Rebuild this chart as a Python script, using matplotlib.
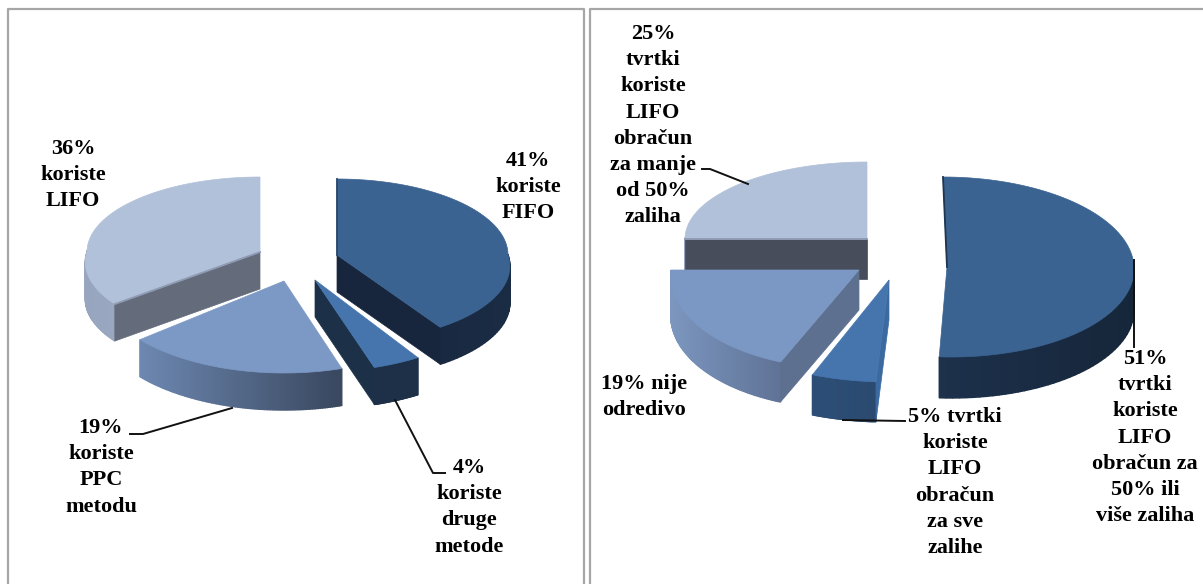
import numpy as np
import matplotlib
matplotlib.use("Agg")
import matplotlib.pyplot as plt
from matplotlib.colors import to_rgb

# left pie
leftValues = [41, 4, 19, 36]
leftLabels = ["41%\nkoriste\nFIFO", "4%\nkoriste\ndruge\nmetode",
              "19%\nkoriste\nPPC\nmetodu", "36%\nkoriste\nLIFO"]

# right pie
rightValues = [51, 5, 19, 25]
rightLabels = ["51%\ntvrtki\nkoriste\nLIFO\nobračun za\n50% ili\nviše zaliha",
               "5% tvrtki\nkoriste\nLIFO\nobračun\nza sve\nzalihe",
               "19% nije\nodredivo",
               "25%\ntvrtki\nkoriste\nLIFO\nobračun\nza manje\nod 50%\nzaliha"]

fontName = "Liberation Serif"
W, H = 1203, 584

fig = plt.figure(figsize=(W / 100, H / 100), dpi=100)
ax = fig.add_axes([0, 0, 1, 1])
ax.set_xlim(0, W)
ax.set_ylim(H, 0)
ax.axis("off")


def angles(values):
    edges = np.cumsum([0] + list(values)) / sum(values) * 2 * np.pi
    return edges[:-1], edges[1:]


def mix(c1, c2, f):
    a = np.array(to_rgb(c1))
    b = np.array(to_rgb(c2))
    return a + (b - a) * f


# everything uses zorder 3, so slices stack in the order they are drawn
def drawSlice(t1, t2, apex, rx, ry, depth, top, sideL, sideR, cut=None, cutEnd=2, skew=0, persp=0, edge=None):
    t = np.linspace(t1, t2, 90)
    grow = 1 + persp * np.maximum(-np.cos(t), 0)  # front of the pie looks larger
    x = apex[0] + rx * grow * np.sin(t) + skew * np.cos(t)
    y = apex[1] - ry * grow * np.cos(t)

    # outer wall, shaded from left to right in small strips, back half is hidden
    left, right = x.min(), x.max()
    for k in range(len(t) - 1):
        if np.cos(t[k]) > 0 and np.cos(t[k + 1]) > 0:
            continue
        f = (x[k] - left) / max(right - left, 1)
        ax.fill([x[k], x[k + 1], x[k + 1], x[k]],
                [y[k], y[k + 1], y[k + 1] + depth, y[k] + depth],
                color=mix(sideL, sideR, f), lw=1.0, zorder=3)

    # cut face going down from the straight edge
    if cut is not None:
        i = -1 if cutEnd == 2 else 0
        ax.fill([apex[0], x[i], x[i], apex[0]],
                [apex[1], y[i], y[i] + depth, apex[1] + depth],
                color=cut, lw=0.5, zorder=3)

    ax.fill(np.r_[apex[0], x], np.r_[apex[1], y], color=top, lw=0.5, zorder=3)
    if edge is not None:
        ax.plot([apex[0], x[0]], [apex[1], y[0]], color=edge, lw=1.3, zorder=3)


# panel borders
for xs, ys in [([8, 8, 584, 584], [584, 9, 9, 584]), ([590, 590, 1203], [584, 9, 9])]:
    ax.plot(xs, ys, color="#a6a6a6", lw=1.6, zorder=1)

s, e = angles(leftValues)
drawSlice(s[3], e[3], (260, 252), 173, 75, 37, "#b1c1da", "#98a5be", "#a3b0c9", cut="#646b7b", cutEnd=1, persp=0.14, edge="#8e9bb3")
drawSlice(s[0], e[0], (337, 255), 171, 76, 37, "#3b6391", "#16263c", "#1a2b44", cut="#17263c", cutEnd=2, persp=0.15, edge="#2a486d")
drawSlice(s[2], e[2], (284, 281), 187, 92, 37, "#7c99c5", "#6d88b1", "#39475f")
drawSlice(s[1], e[1], (315, 280), 192, 92, 37, "#4675ae", "#1d3048", "#1d3048", cut="#1c3048", cutEnd=2)

s, e = angles(rightValues)
drawSlice(s[3], e[3], (867, 239), 182, 77, 40, "#b1c1da", "#98a5be", "#a3b0c9", cut="#474d5a", cutEnd=1, edge="#8e9bb3")
drawSlice(s[0], e[0], (947, 267), 187, 90, 41, "#3a6391", "#1d314c", "#16263a", skew=-4, edge="#1f3550")
drawSlice(s[2], e[2], (859, 270), 188, 99, 40, "#7b98c4", "#7c96bf", "#5f7396", cut="#5e7090", cutEnd=1, skew=10)
drawSlice(s[1], e[1], (889, 280), 208, 102, 40, "#4675ae", "#2c4e76", "#2b4a70", cut="#3a6aa0", cutEnd=1)

# leader lines
leaders = [
    ([130, 143, 232], [434, 434, 408]),
    ([395, 433, 445], [400, 473, 473]),
    ([702, 710, 748], [169, 169, 184]),
    ([1134, 1134], [260, 347]),
    ([843, 905], [420, 421]),
]
for xs, ys in leaders:
    ax.plot(xs, ys, color="#111111", lw=1.4, zorder=20)

# labels, x centre and first line y
placeLeft = [(528, 161), (469, 468), (101, 428), (73, 149)]
placeRight = [(1145, 359), (955, 417), (644, 384), (653, 34)]
lineGap = 26.2

for labels, places in [(leftLabels, placeLeft), (rightLabels, placeRight)]:
    for label, (px, py) in zip(labels, places):
        for n, line in enumerate(label.split("\n")):
            ax.text(px, py + n * lineGap, line, family=fontName, weight="bold", fontsize=16,
                    ha="center", va="center", color="black", zorder=30)

fig.savefig("out.png", dpi=100)
